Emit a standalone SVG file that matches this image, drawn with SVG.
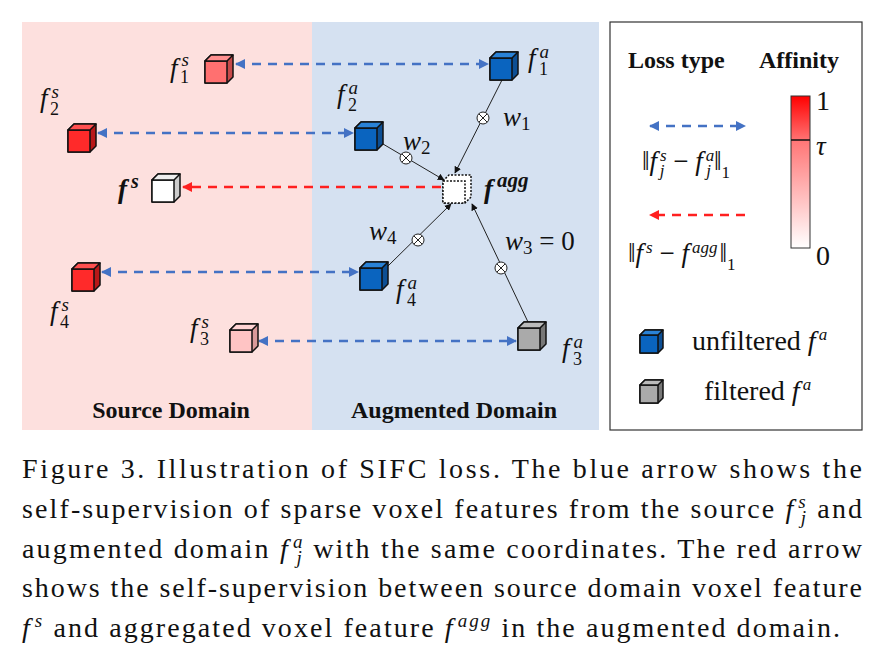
<svg xmlns="http://www.w3.org/2000/svg" width="875" height="658" viewBox="0 0 875 658">
<style>
.cube path{stroke:#111;stroke-width:1.5;stroke-linejoin:round}
.m{font-family:"Liberation Serif",serif;font-style:italic;font-size:27px;fill:#111}
.b{font-family:"Liberation Serif",serif;font-weight:bold;font-size:24px;fill:#111}
.cap{font-family:"Liberation Serif",serif;font-size:28px;fill:#111}
.bd{stroke:#4472c4;stroke-width:2.5;stroke-dasharray:9,7;fill:none}
.rd{stroke:#ff2020;stroke-width:2.5;stroke-dasharray:9,7;fill:none}
.th{stroke:#222;stroke-width:1;fill:none}
</style>
<defs>
<marker id="ab" viewBox="0 0 10 10" refX="9" refY="5" markerWidth="4" markerHeight="4" orient="auto-start-reverse"><path d="M0,0L10,5L0,10z" fill="#4472c4"/></marker>
<marker id="ar" viewBox="0 0 10 10" refX="9" refY="5" markerWidth="4" markerHeight="4" orient="auto-start-reverse"><path d="M0,0L10,5L0,10z" fill="#ff2020"/></marker>
<marker id="ak" viewBox="0 0 10 10" refX="9" refY="5" markerWidth="7" markerHeight="7" orient="auto"><path d="M0,0L10,5L0,10z" fill="#111"/></marker>
<g id="ot"><circle r="6" fill="#fff" stroke="#222" stroke-width="1"/><path d="M-4.2,-4.2L4.2,4.2M-4.2,4.2L4.2,-4.2" stroke="#222" stroke-width="1"/></g>
<linearGradient id="gr" x1="0" y1="1" x2="0" y2="0"><stop offset="0" stop-color="#fff"/><stop offset="0.7" stop-color="#f77"/><stop offset="1" stop-color="#f00"/></linearGradient>
</defs>
<rect x="22" y="22" width="290" height="408" fill="#fde0de"/>
<rect x="312" y="22" width="287" height="408" fill="#d5e1f1"/>
<g id="connectors">
<line class="bd" x1="236" y1="64" x2="488" y2="64" marker-start="url(#ab)" marker-end="url(#ab)"/>
<line class="bd" x1="98" y1="133" x2="353" y2="133" marker-start="url(#ab)" marker-end="url(#ab)"/>
<line class="rd" x1="441" y1="187" x2="183" y2="187" marker-end="url(#ar)"/>
<line class="bd" x1="102" y1="272" x2="358" y2="272" marker-start="url(#ab)" marker-end="url(#ab)"/>
<line class="bd" x1="259" y1="341" x2="516" y2="341" marker-start="url(#ab)" marker-end="url(#ab)"/>
<line class="th" x1="502" y1="80" x2="455" y2="173" marker-end="url(#ak)"/>
<line class="th" x1="383" y1="144" x2="444" y2="180" marker-end="url(#ak)"/>
<line class="th" x1="388" y1="266" x2="451" y2="204" marker-end="url(#ak)"/>
<line class="th" x1="528" y1="322" x2="472" y2="204" marker-end="url(#ak)"/>
<use href="#ot" x="483" y="118"/>
<use href="#ot" x="406" y="158"/>
<use href="#ot" x="418" y="240"/>
<use href="#ot" x="501" y="268"/>
</g>
<g id="f1s"><g class="cube" transform="translate(205,55)"><path d="M0,6L6,0H28V22L22,28H0Z" fill="#c74a4a"/><path d="M0,6H22V28H0Z" fill="#ff7070"/><path d="M0,6L6,0H28L22,6Z" fill="#ff9090"/></g><text class="m" x="170" y="77">f<tspan dx="4" dy="-11" font-size="19">s</tspan><tspan dx="-9" dy="17" font-style="normal" font-size="18">1</tspan></text></g>
<g id="f1a"><g class="cube" transform="translate(490,52)"><path d="M0,6L6,0H28V22L22,28H0Z" fill="#0d4f94"/><path d="M0,6H22V28H0Z" fill="#0a64bf"/><path d="M0,6L6,0H28L22,6Z" fill="#2a82d6"/></g><text class="m" x="528" y="67">f<tspan dx="4" dy="-9" font-size="19">a</tspan><tspan dx="-10" dy="17" font-style="normal" font-size="18">1</tspan></text></g>
<g id="f2s"><g class="cube" transform="translate(68,124)"><path d="M0,6L6,0H28V22L22,28H0Z" fill="#b81818"/><path d="M0,6H22V28H0Z" fill="#ff2a2a"/><path d="M0,6L6,0H28L22,6Z" fill="#ff5050"/></g><text class="m" x="40" y="107">f<tspan dx="4" dy="-9" font-size="19">s</tspan><tspan dx="-9" dy="17" font-style="normal" font-size="18">2</tspan></text></g>
<g id="f2a"><g class="cube" transform="translate(355,122)"><path d="M0,6L6,0H28V22L22,28H0Z" fill="#0d4f94"/><path d="M0,6H22V28H0Z" fill="#0a64bf"/><path d="M0,6L6,0H28L22,6Z" fill="#2a82d6"/></g><text class="m" x="337" y="103">f<tspan dx="4" dy="-9" font-size="19">a</tspan><tspan dx="-10" dy="17" font-style="normal" font-size="18">2</tspan></text></g>
<g id="fs"><g class="cube" transform="translate(152,174)"><path d="M0,6L6,0H28V22L22,28H0Z" fill="#ccc"/><path d="M0,6H22V28H0Z" fill="#fff"/><path d="M0,6L6,0H28L22,6Z" fill="#eee"/></g><text class="m" x="118" y="198" font-weight="bold" font-size="30">f<tspan dx="4" dy="-10" font-size="20">s</tspan></text></g>
<g id="fagg"><g transform="translate(443,175)"><path d="M0,6L6,0H28V22L22,28H0Z" fill="#fff" stroke="#111" stroke-width="1.5" stroke-dasharray="2,1.5"/><path d="M0,6H22V28H0Z" fill="#fff" stroke="#111" stroke-width="1.5" stroke-dasharray="2,1.5"/></g><text class="m" x="484" y="198" font-weight="bold" font-size="30">f<tspan dx="4" dy="-11" font-size="21">agg</tspan></text></g>
<g id="w"><text class="m" x="503" y="126">w<tspan dy="4" font-style="normal" font-size="19">1</tspan></text>
<text class="m" x="403" y="150">w<tspan dy="4" font-style="normal" font-size="19">2</tspan></text>
<text class="m" x="369" y="240">w<tspan dy="4" font-style="normal" font-size="19">4</tspan></text>
<text class="m" x="505" y="250">w<tspan dy="4" font-style="normal" font-size="19">3</tspan><tspan dy="-4" font-style="normal"> = 0</tspan></text></g>
<g id="f4s"><g class="cube" transform="translate(72,263)"><path d="M0,6L6,0H28V22L22,28H0Z" fill="#b81818"/><path d="M0,6H22V28H0Z" fill="#ff2a2a"/><path d="M0,6L6,0H28L22,6Z" fill="#ff5050"/></g><text class="m" x="50" y="320">f<tspan dx="4" dy="-9" font-size="19">s</tspan><tspan dx="-9" dy="17" font-style="normal" font-size="18">4</tspan></text></g>
<g id="f4a"><g class="cube" transform="translate(360,262)"><path d="M0,6L6,0H28V22L22,28H0Z" fill="#0d4f94"/><path d="M0,6H22V28H0Z" fill="#0a64bf"/><path d="M0,6L6,0H28L22,6Z" fill="#2a82d6"/></g><text class="m" x="396" y="298">f<tspan dx="4" dy="-9" font-size="19">a</tspan><tspan dx="-10" dy="17" font-style="normal" font-size="18">4</tspan></text></g>
<g id="f3s"><g class="cube" transform="translate(230,324)"><path d="M0,6L6,0H28V22L22,28H0Z" fill="#d99a9a"/><path d="M0,6H22V28H0Z" fill="#ffc4c4"/><path d="M0,6L6,0H28L22,6Z" fill="#ffd4d4"/></g><text class="m" x="190" y="337">f<tspan dx="4" dy="-9" font-size="19">s</tspan><tspan dx="-9" dy="17" font-style="normal" font-size="18">3</tspan></text></g>
<g id="f3a"><g class="cube" transform="translate(518,322)"><path d="M0,6L6,0H28V22L22,28H0Z" fill="#777"/><path d="M0,6H22V28H0Z" fill="#aaa"/><path d="M0,6L6,0H28L22,6Z" fill="#bbb"/></g><text class="m" x="562" y="357">f<tspan dx="4" dy="-9" font-size="19">a</tspan><tspan dx="-10" dy="17" font-style="normal" font-size="18">3</tspan></text></g>
<text class="b" x="171" y="418" text-anchor="middle">Source Domain</text>
<text class="b" x="454" y="418" text-anchor="middle">Augmented Domain</text>
<g id="legend">
<rect x="610" y="22" width="252" height="408" fill="#fff" stroke="#333" stroke-width="1.2"/>
<text class="b" x="628" y="68" font-size="23">Loss type</text>
<text class="b" x="759" y="68" font-size="23">Affinity</text>
<rect x="791" y="96" width="19" height="152" fill="url(#gr)" stroke="#333"/>
<line x1="791" y1="140" x2="810" y2="140" stroke="#111" stroke-width="1.5"/>
<text class="cap" x="816" y="110" font-size="22">1</text>
<text class="m" x="816" y="155" font-size="22">τ</text>
<text class="cap" x="816" y="265" font-size="22">0</text>
<line class="bd" x1="650" y1="126" x2="745" y2="126" marker-start="url(#ab)" marker-end="url(#ab)" stroke-width="2.2"/>
<text class="m" x="642" y="170" font-size="24"><tspan font-style="normal">‖</tspan>f<tspan dx="3" dy="-9" font-size="17">s</tspan><tspan dx="-7" dy="15" font-size="17">j</tspan><tspan dx="2" dy="-6" font-style="normal"> − </tspan>f<tspan dx="3" dy="-9" font-size="17">a</tspan><tspan dx="-8" dy="15" font-size="17">j</tspan><tspan dx="3" dy="-6" font-style="normal">‖</tspan><tspan dy="8" font-style="normal" font-size="17">1</tspan></text>
<line class="rd" x1="745" y1="215" x2="650" y2="215" marker-end="url(#ar)" stroke-width="2.2"/>
<text class="m" x="628" y="262" font-size="24"><tspan font-style="normal">‖</tspan>f<tspan dx="3" dy="-9" font-size="17">s</tspan><tspan dy="9" font-style="normal"> − </tspan>f<tspan dx="3" dy="-9" font-size="17">agg</tspan><tspan dx="2" dy="9" font-style="normal">‖</tspan><tspan dy="8" font-style="normal" font-size="17">1</tspan></text>
<g class="cube" transform="translate(640,330)"><path d="M0,5L5,0H23V18L18,23H0Z" fill="#0d4f94"/><path d="M0,5H18V23H0Z" fill="#0a64bf"/><path d="M0,5L5,0H23L18,5Z" fill="#2a82d6"/></g>
<text class="cap" x="692" y="350" font-size="22">unfiltered <tspan font-style="italic">f</tspan><tspan font-style="italic" dx="3" dy="-10" font-size="17">a</tspan></text>
<g class="cube" transform="translate(640,380)"><path d="M0,5L5,0H23V18L18,23H0Z" fill="#777"/><path d="M0,5H18V23H0Z" fill="#aaa"/><path d="M0,5L5,0H23L18,5Z" fill="#bbb"/></g>
<text class="cap" x="704" y="400" font-size="22">filtered <tspan font-style="italic">f</tspan><tspan font-style="italic" dx="3" dy="-10" font-size="17">a</tspan></text>
</g>
<g id="caption">
<text class="cap" x="22" y="478" textLength="840" lengthAdjust="spacing">Figure 3.  Illustration of SIFC loss.  The blue arrow shows the</text>
<text class="cap" x="22" y="518" textLength="840" lengthAdjust="spacing">self-supervision of sparse voxel features from the source <tspan font-style="italic">f</tspan><tspan font-style="italic" font-size="19" dx="3" dy="-10">s</tspan><tspan font-style="italic" font-size="19" dx="-7" dy="16">j</tspan><tspan dy="-6"> and</tspan></text>
<text class="cap" x="22" y="558" textLength="840" lengthAdjust="spacing">augmented domain <tspan font-style="italic">f</tspan><tspan font-style="italic" font-size="19" dx="3" dy="-10">a</tspan><tspan font-style="italic" font-size="19" dx="-8" dy="16">j</tspan><tspan dy="-6"> with the same coordinates. The red arrow</tspan></text>
<text class="cap" x="22" y="597" textLength="840" lengthAdjust="spacing">shows the self-supervision between source domain voxel feature</text>
<text class="cap" x="22" y="637" textLength="818" lengthAdjust="spacing"><tspan font-style="italic">f</tspan><tspan font-style="italic" font-size="19" dx="3" dy="-10">s</tspan><tspan dy="10"> and aggregated voxel feature </tspan><tspan font-style="italic">f</tspan><tspan font-style="italic" font-size="19" dx="3" dy="-10">agg</tspan><tspan dy="10"> in the augmented domain.</tspan></text>
</g>
</svg>
